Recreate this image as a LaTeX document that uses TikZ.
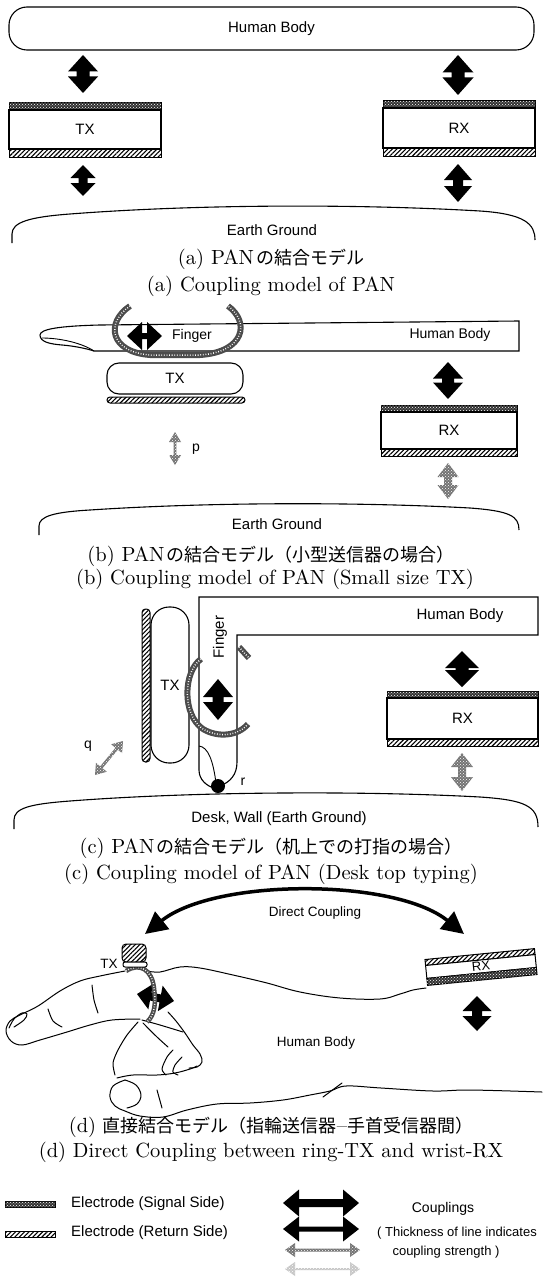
\documentclass[tikz,border=0pt]{standalone}
\usepackage{fontspec}
\newfontfamily\labfont{Liberation Sans}
\newfontfamily\jpfont{Noto Sans CJK JP}
\newfontfamily\capfont{lmroman10-regular.otf}[Ligatures=TeX]
\usetikzlibrary{calc,patterns,patterns.meta,arrows.meta}

% double-headed coupling arrow between two named coordinates
% #1,#2 ends, #3 head half-width, #4 head length, #5 shaft half-width, #6 fill style
\newcommand\couplingarrow[6]{%
  \fill[#6] (#1)
    -- ($(#1)!#4!(#2)!#3!90:(#2)$)
    -- ($(#1)!#4!(#2)!#5!90:(#2)$)
    -- ($(#2)!#4!(#1)!#5!-90:(#1)$)
    -- ($(#2)!#4!(#1)!#3!-90:(#1)$)
    -- (#2)
    -- ($(#2)!#4!(#1)!#3!90:(#1)$)
    -- ($(#2)!#4!(#1)!#5!90:(#1)$)
    -- ($(#1)!#4!(#2)!#5!-90:(#2)$)
    -- ($(#1)!#4!(#2)!#3!-90:(#2)$)
    -- cycle;}

\tikzset{
  lbl/.style={font=\labfont\fontsize{15}{17}\selectfont, inner sep=0pt},
  lblb/.style={font=\labfont\fontsize{14}{16}\selectfont, inner sep=0pt},
  lbld/.style={font=\labfont\fontsize{13.5}{15}\selectfont, inner sep=0pt},
  lbls/.style={font=\labfont\fontsize{13}{15}\selectfont, inner sep=0pt},
  captext/.style={font=\capfont\fontsize{20.5}{24}\selectfont, inner sep=0pt},
  boxnode/.style={draw, line width=1.1pt, inner sep=0pt},
  sig/.style={draw, line width=1pt, fill=black!80, postaction={pattern=crosshatch dots, pattern color=white}},
  ret/.style={draw, line width=1pt, fill=white, postaction={pattern={Lines[angle=45,distance=3.2pt,line width=1.1pt]}}},
  cblack/.style={fill=black},
  cgray/.style={fill=black!55, postaction={pattern=crosshatch dots, pattern color=white}},
  clight/.style={fill=black!22, postaction={pattern=crosshatch dots, pattern color=white}},
  ringband/.style={draw=black!70, line width=6pt, postaction={draw=white, line width=1.5pt, dash pattern=on 0.8pt off 1.8pt}},
  edgeline/.style={line width=1.1pt},
  hand/.style={line width=1pt, line join=round, line cap=round},
}

\newcommand\jpcap[1]{{\jpfont\fontsize{18}{20}\selectfont #1}}

\begin{document}
\begin{tikzpicture}[x=1pt,y=-1pt]
\fill[white] (0,0) rectangle (542,1279);
\useasboundingbox (0,0) rectangle (542,1279);

%% ---------------- (a) ----------------
\node[boxnode, rounded corners=18pt, minimum width=525pt, minimum height=43pt, lbl] (hba) at (271.5,28.5) {Human Body};

\draw[sig] (9,103) rectangle (161,110);
\node[boxnode, minimum width=152pt, minimum height=39pt, lbl] (txa) at (85,129.5) {TX};
\draw[ret] (9,149) rectangle (161,157);

\draw[sig] (383,101) rectangle (535,108);
\node[boxnode, minimum width=152pt, minimum height=40pt, lbl] (rxa) at (459,128) {RX};
\draw[ret] (383,148) rectangle (535,156);

\coordinate (a1) at (83,55);   \coordinate (a2) at (83,93);
\coordinate (a3) at (83,165);  \coordinate (a4) at (83,196);
\coordinate (a5) at (458,55);  \coordinate (a6) at (458,95);
\coordinate (a7) at (458,164); \coordinate (a8) at (458,202);
\couplingarrow{a1}{a2}{15pt}{16.5pt}{6.5pt}{cblack}
\couplingarrow{a3}{a4}{12.5pt}{13pt}{4.5pt}{cblack}
\couplingarrow{a5}{a6}{15.5pt}{17.5pt}{6.5pt}{cblack}
\couplingarrow{a7}{a8}{14pt}{16pt}{5pt}{cblack}

\draw[edgeline] (12,243) -- (12,234) .. controls (12,222) and (30,217) .. (70,214)
  .. controls (200,204) and (360,204) .. (480,211) .. controls (525,214) and (535,224) .. (535,240);
\node[lbl] (ega) at (272,230) {Earth Ground};

\node[captext] (capa1) at (271,259) {(a) PAN\hspace{2pt}\jpcap{の結合モデル}};
\node[captext] (capa2) at (271,286) {(a) Coupling model of PAN};

%% ---------------- (b) ----------------
\draw[edgeline] (519,321) -- (100,325) .. controls (60,326) and (40,329) .. (40,335)
  .. controls (40,342) and (50,344) .. (62,345) .. controls (75,346) and (88,349) .. (94,351)
  -- (519,351) -- cycle;
\draw[line width=0.9pt] (42,338) .. controls (60,338) and (82,343) .. (94,351);
\node[lblb] (fgb) at (192,336) {Finger};
\node[lblb] (hbb) at (450,335) {Human Body};

\draw[ringband] (130,306) .. controls (105,323) and (110,352) .. (150,355) -- (200,355)
  .. controls (245,352) and (250,322) .. (228,306);
\coordinate (b1) at (127,336); \coordinate (b2) at (162,336);
\couplingarrow{b1}{b2}{14pt}{15pt}{3pt}{cblack}

\node[boxnode, rounded corners=12pt, minimum width=136pt, minimum height=31pt, lbl] (txb) at (175,378.5) {TX};
\draw[ret, rounded corners=3pt] (107,397) rectangle (245,403);

\coordinate (b3) at (175,432); \coordinate (b4) at (175,465);
\couplingarrow{b3}{b4}{6pt}{10pt}{1.3pt}{cgray}
\node[lblb] (pb) at (196,449) {p};

\draw[sig] (381,405) rectangle (517,412);
\node[boxnode, minimum width=136pt, minimum height=37pt, lbl] (rxb) at (449,430.5) {RX};
\draw[ret] (381,449) rectangle (517,456);

\coordinate (b5) at (448,362); \coordinate (b6) at (448,399);
\coordinate (b7) at (448,463); \coordinate (b8) at (448,499);
\couplingarrow{b5}{b6}{15pt}{16.5pt}{6pt}{cblack}
\couplingarrow{b7}{b8}{10.5pt}{14pt}{4pt}{cgray}

\draw[edgeline] (39,535) -- (39,526) .. controls (39,516) and (55,512) .. (90,510)
  .. controls (210,502) and (360,502) .. (470,508) .. controls (510,511) and (519,516) .. (519,530);
\node[lbl] (egb) at (277,524) {Earth Ground};

\node[captext] (capb1) at (271,556) {(b) PAN\hspace{2pt}\jpcap{の結合モデル（小型送信器の場合）}};
\node[captext] (capb2) at (275,579) {(b) Coupling model of PAN (Small size TX)};

%% ---------------- (c) ----------------
\draw[ret, rounded corners=3.5pt] (142,609) rectangle (150,762);
\node[boxnode, rounded corners=18pt, minimum width=38pt, minimum height=156pt, lbl] (txc) at (170,685) {TX};

\draw[edgeline] (220,786) .. controls (230,782) and (237,775) .. (237,762) -- (237,635) -- (538,635)
  -- (538,597) -- (199,597) -- (199,770) .. controls (199,780) and (207,786) .. (214,788);
\draw[line width=0.9pt] (199,746) .. controls (208,747) and (213,760) .. (216,783);
\node[lbl, rotate=90] (fgc) at (220,637) {Finger};
\node[lbl] (hbc) at (460,616) {Human Body};

\draw[ringband] (201,659) .. controls (183,672) and (182,715) .. (203,729)
  .. controls (218,738) and (238,736) .. (248,724);
\draw[ringband] (239,647) -- (249,658);
\coordinate (c1) at (218,679); \coordinate (c2) at (218,720);
\couplingarrow{c1}{c2}{15pt}{18pt}{5.5pt}{cblack}

\coordinate (c3) at (95,775); \coordinate (c4) at (123,741);
\couplingarrow{c3}{c4}{7pt}{10pt}{1.5pt}{cgray}
\node[lblb] (qc) at (88,746) {q};

\draw[sig] (387,691) rectangle (538,698);
\node[boxnode, minimum width=151pt, minimum height=41pt, lbl] (rxc) at (462.5,718.5) {RX};
\draw[ret] (387,739) rectangle (538,746);

\coordinate (c5) at (462,651); \coordinate (c6) at (462,687);
\coordinate (c7) at (462,753); \coordinate (c8) at (462,791);
\couplingarrow{c5}{c6}{17pt}{17pt}{6.5pt}{cblack}
\couplingarrow{c7}{c8}{11pt}{14pt}{4pt}{cgray}

\draw[edgeline] (14,829) -- (14,820) .. controls (14,808) and (30,804) .. (70,801)
  .. controls (200,791) and (370,791) .. (480,797) .. controls (525,800) and (538,806) .. (538,827);
\node[circle, fill=black, minimum size=14pt, inner sep=0pt] (tapc) at (218,786) {};
\node[lblb] (rc) at (243,782) {r};
\node[lbl] (egc) at (279,819) {Desk, Wall (Earth Ground)};

\node[captext] (capc1) at (271,848) {(c) PAN\hspace{2pt}\jpcap{の結合モデル（机上での打指の場合）}};
\node[captext] (capc2) at (271,874) {(c) Coupling model of PAN (Desk top typing)};

%% ---------------- (d) ----------------
\coordinate (dcl) at (145,934); \coordinate (dcr) at (464,934);
\draw[line width=3.5pt, {Triangle[length=22pt,width=22pt]}-{Triangle[length=22pt,width=22pt]}]
  (dcl) .. controls (215,878) and (395,878) .. (dcr);
\node[lbld] (dct) at (315,913) {Direct Coupling};

% index finger
\draw[hand] plot[smooth, tension=0.6] coordinates {(125,971) (100,976) (80,981) (60,991) (38,1006)
  (20,1015) (10,1021) (6,1031) (11,1041) (22,1045) (40,1040) (67,1032) (90,1025) (112,1020) (140,1019)};
\draw[hand] plot[smooth, tension=0.6] coordinates {(9,1028) (14,1019) (22,1013) (27,1014) (24,1020) (14,1027)};
\draw[hand] plot[smooth] coordinates {(92,985) (94,1000) (98,1013)};
\draw[hand] plot[smooth] coordinates {(48,1009) (53,1021) (62,1027)};
% back of hand and wrist
\draw[hand] plot[smooth, tension=0.6] coordinates {(147,971) (160,972) (180,967) (200,968) (233,975)
  (267,983) (300,992) (340,998) (380,999) (400,994) (413,990) (426,988)};
% bent fingers
\draw[hand] plot[smooth] coordinates {(142,1020) (160,1025) (183,1032)};
\draw[hand] plot[smooth, tension=0.6] coordinates {(168,1012) (176,1021) (185,1033) (193,1045)
  (200,1054) (202,1062) (197,1067) (189,1068)};
\draw[hand] plot[smooth] coordinates {(143,1023) (157,1037) (168,1047)};
\draw[hand] plot[smooth] coordinates {(173,1050) (167,1057) (162,1069) (166,1075)};
\draw[hand] plot[smooth] coordinates {(182,1057) (175,1065) (173,1072) (178,1075)};
\draw[hand] plot[smooth] coordinates {(138,1022) (127,1035) (118,1050) (113,1063) (115,1075)};
% thumb and lower contour
\draw[hand] plot[smooth, tension=0.6] coordinates {(117,1078) (133,1075) (157,1075) (175,1073) (190,1069) (197,1066)};
\draw[hand] plot[smooth, tension=0.6] coordinates {(125,1080) (136,1085) (141,1095) (137,1104) (127,1108)};
\draw[hand] plot[smooth, tension=0.6] coordinates {(125,1080) (113,1086) (110,1097) (115,1106)
  (125,1111) (140,1116) (163,1117) (187,1110) (217,1104) (250,1103) (283,1100) (310,1095)
  (330,1091) (346,1086) (381,1088) (433,1091) (470,1090) (542,1092)};
\draw[hand] (157,1090) -- (162,1108);
\draw[hand] (323,1097) -- (342,1083);

\node[lbld] (hbd) at (316,1043) {Human Body};

% coupling at the ring
\coordinate (d1) at (137,994); \coordinate (d2) at (174,1001);
\couplingarrow{d1}{d2}{13pt}{14pt}{4pt}{cblack}
\draw[ringband, line width=4.5pt] (126,971) .. controls (140,962) and (152,970) .. (154,988)
  .. controls (156,1003) and (155,1015) .. (147,1022);

% ring transmitter
\draw[ret, rounded corners=4pt] (122,944) rectangle (146,962);
\draw[line width=1pt, fill=white, rounded corners=2pt] (123,962) rectangle (147,967);
\node[lbld] (txd) at (109,964) {TX};

% wrist receiver
\begin{scope}[shift={(481,967)}, rotate=5.7]
  \draw[ret] (-55,-13) rectangle (55,-7);
  \draw[line width=1pt, fill=white] (-55,-7) rectangle (55,6);
  \draw[sig] (-55,6) rectangle (55,13);
  \node[lbls, transform shape] (rxd) at (0,-0.5) {RX};
\end{scope}
\coordinate (d3) at (477,996); \coordinate (d4) at (477,1031);
\couplingarrow{d3}{d4}{14.5pt}{15pt}{5pt}{cblack}

\node[captext] (capd1) at (271,1127) {(d) \jpcap{直接結合モデル（指輪送信器}\textendash\jpcap{手首受信器間）}};
\node[captext] (capd2) at (271,1152) {(d) Direct Coupling between ring-TX and wrist-RX};

%% ---------------- legend ----------------
\draw[sig] (5,1201) rectangle (55,1207);
\node[lbl, anchor=west] (lsig) at (71,1204) {Electrode (Signal Side)};
\draw[ret] (5,1231) rectangle (55,1237);
\node[lbl, anchor=west] (lret) at (71,1233) {Electrode (Return Side)};

\coordinate (l1) at (283,1203); \coordinate (l2) at (359,1203);
\coordinate (l3) at (283,1229); \coordinate (l4) at (359,1229);
\coordinate (l5) at (285,1250); \coordinate (l6) at (360,1250);
\coordinate (l7) at (285,1269); \coordinate (l8) at (360,1269);
\couplingarrow{l1}{l2}{13.5pt}{16pt}{4pt}{cblack}
\couplingarrow{l3}{l4}{12.5pt}{16pt}{2.5pt}{cblack}
\couplingarrow{l5}{l6}{7pt}{10pt}{1.5pt}{cgray}
\couplingarrow{l7}{l8}{7pt}{10pt}{1pt}{clight}

\node[font=\labfont\fontsize{14}{16}\selectfont, inner sep=0pt] (lcp) at (443,1209) {Couplings};
\node[lbls] (lth1) at (457,1233) {( Thickness of line indicates};
\node[lbls] (lth2) at (446,1252) {coupling strength )};
\end{tikzpicture}
\end{document}
